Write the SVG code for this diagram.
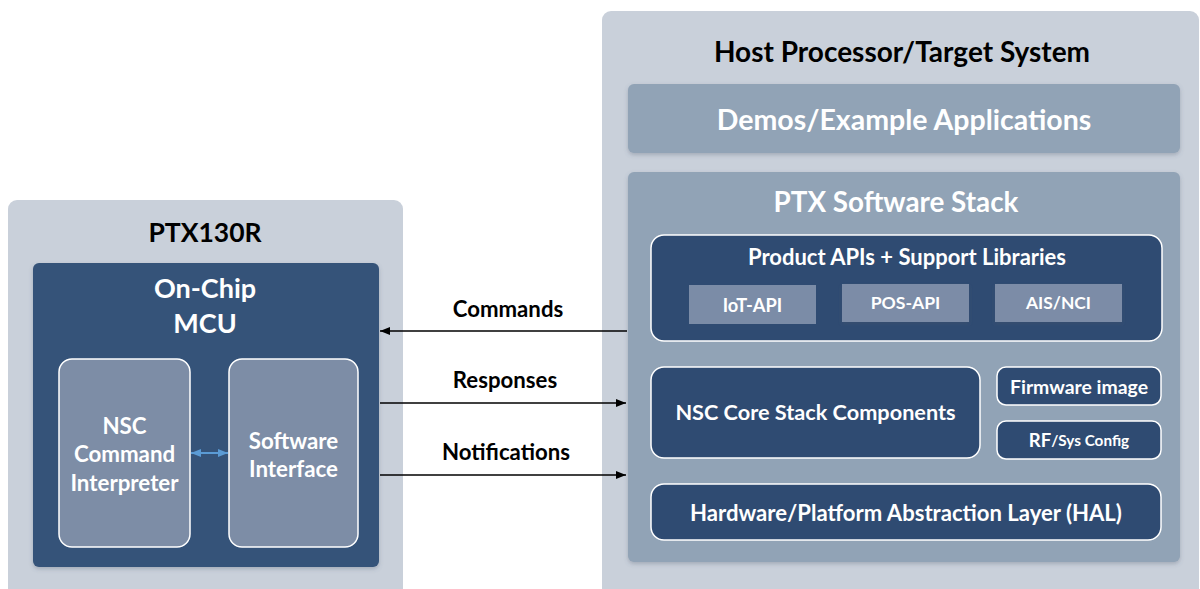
<svg xmlns="http://www.w3.org/2000/svg" width="1200" height="589" viewBox="0 0 1200 589">
<defs>
<style>
.t{font-family:Lato,"Open Sans","Liberation Sans",sans-serif;font-weight:700;text-anchor:middle;dominant-baseline:central}
.w{fill:#ffffff}
.k{fill:#000000}
.outer{fill:#c9d0da}
.mid{fill:#91a3b6}
.dark{fill:#2f4b72;stroke:#ffffff;stroke-width:1.5}
.sub{fill:#7d8da6;stroke:#ffffff;stroke-width:1.5}
.api{fill:#7b8ca7}
.conn{stroke:#000000;stroke-width:1.5;fill:none}
</style>
<filter id="sh" x="-5%" y="-5%" width="110%" height="115%">
<feDropShadow dx="0" dy="2" stdDeviation="2" flood-color="#44546a" flood-opacity="0.3"/>
</filter>
<marker id="ah" viewBox="0 0 10 8" refX="10" refY="4" markerWidth="10" markerHeight="8" markerUnits="userSpaceOnUse" orient="auto-start-reverse">
<path d="M0,0 L10,4 L0,8 z" fill="#000000"/>
</marker>
<marker id="bh" viewBox="0 0 10 8" refX="10" refY="4" markerWidth="10" markerHeight="8" markerUnits="userSpaceOnUse" orient="auto-start-reverse">
<path d="M0,0 L10,4 L0,8 z" fill="#5b9bd5"/>
</marker>
</defs>
<rect width="1200" height="589" fill="#ffffff"/>

<g id="ptx130r">
<rect class="outer" x="8" y="200" width="395" height="400" rx="9"/>
<text class="t k" x="205" y="232" font-size="26.5">PTX130R</text>
</g>
<g id="mcu">
<rect x="33" y="263" width="346" height="304" rx="6" fill="#355379" filter="url(#sh)"/>
<text class="t w" x="205" y="287" font-size="27">On-Chip</text>
<text class="t w" x="205" y="322" font-size="27">MCU</text>
</g>
<g id="nsc-interpreter">
<rect class="sub" x="59" y="359" width="131" height="188" rx="13"/>
<text class="t w" x="124.5" y="425" font-size="22.3">NSC</text>
<text class="t w" x="124.5" y="453" font-size="22.3">Command</text>
<text class="t w" x="124.5" y="482" font-size="22.3">Interpreter</text>
</g>
<g id="software-interface">
<rect class="sub" x="229" y="359" width="129" height="188" rx="13"/>
<text class="t w" x="293.5" y="440" font-size="22.3">Software</text>
<text class="t w" x="293.5" y="468" font-size="22.3">Interface</text>
</g>

<g id="host">
<rect class="outer" x="602" y="11" width="597" height="600" rx="9"/>
<text class="t k" x="902" y="51" font-size="28">Host Processor/Target System</text>
</g>
<g id="demos">
<rect class="mid" x="628" y="84" width="552" height="69" rx="6" filter="url(#sh)"/>
<text class="t w" x="904" y="119" font-size="28.5">Demos/Example Applications</text>
</g>
<g id="ptx-stack">
<rect class="mid" x="628" y="172" width="552" height="390" rx="6" filter="url(#sh)"/>
<text class="t w" x="896" y="201" font-size="27.8">PTX Software Stack</text>
</g>
<g id="product-apis">
<rect class="dark" x="651" y="235" width="511" height="106" rx="13"/>
<text class="t w" x="907" y="256" font-size="22">Product APIs + Support Libraries</text>
</g>
<g id="iot-api">
<rect class="api" x="689" y="285" width="127" height="39"/>
<text class="t w" x="752.5" y="305" font-size="18.3">IoT-API</text>
</g>
<g id="pos-api">
<rect class="api" x="842" y="284" width="127" height="38" filter="url(#sh)"/>
<text class="t w" x="905.5" y="302" font-size="17.6">POS-API</text>
</g>
<g id="ais-nci">
<rect class="api" x="995" y="284" width="127" height="38" filter="url(#sh)"/>
<text class="t w" x="1058.5" y="302" font-size="17.4">AIS/NCI</text>
</g>
<g id="nsc-core">
<rect class="dark" x="651" y="367" width="329" height="91" rx="13"/>
<text class="t w" x="815.5" y="412" font-size="21.7">NSC Core Stack Components</text>
</g>
<g id="firmware">
<rect class="dark" x="997" y="367" width="164" height="38" rx="9" stroke="#b8c2cf"/>
<text class="t w" x="1079" y="386" font-size="19.4">Firmware image</text>
</g>
<g id="rf-sys">
<rect class="dark" x="997" y="421" width="164" height="38" rx="9" stroke="#b8c2cf"/>
<text class="t w" x="1079" y="440" font-size="18.5">RF<tspan font-size="15.3">/Sys Config</tspan></text>
</g>
<g id="hal">
<rect class="dark" x="651" y="484" width="510" height="56" rx="13"/>
<text class="t w" x="906" y="512" font-size="22.1">Hardware/Platform Abstraction Layer (HAL)</text>
</g>

<g id="connectors">
<line class="conn" x1="627" y1="331" x2="380" y2="331" marker-end="url(#ah)"/>
<text class="t k" x="508" y="308" font-size="22.2">Commands</text>
<line class="conn" x1="380" y1="403" x2="626" y2="403" marker-end="url(#ah)"/>
<text class="t k" x="505" y="379" font-size="22.2">Responses</text>
<line class="conn" x1="380" y1="475" x2="626" y2="475" marker-end="url(#ah)"/>
<text class="t k" x="506" y="451" font-size="22.2">Notifications</text>
<line x1="191" y1="453" x2="228" y2="453" stroke="#5b9bd5" stroke-width="2" marker-start="url(#bh)" marker-end="url(#bh)"/>
</g>
</svg>
